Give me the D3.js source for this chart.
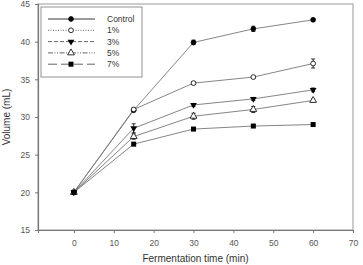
<!DOCTYPE html>
<html>
<head>
<meta charset="utf-8">
<script src="https://cdn.jsdelivr.net/npm/d3@7"></script>
<style>
  body { margin: 0; background: #fff; }
  svg { display: block; font-family: "Liberation Sans", Arial, sans-serif; }
</style>
</head>
<body>
<svg id="chart" width="363" height="265"></svg>
<script>
// ======================================================================
// DATA
// ======================================================================
var times = [0, 15, 30, 45, 60];
var seriesNames = ["Control", "1%", "3%", "5%", "7%"];
var controlValues = [20, 30.9, 39.9, 41.7, 42.9];
var pct1Values = [20, 31.0, 34.5, 35.3, 37.1];
var pct3Values = [20, 28.5, 31.6, 32.4, 33.6];
var pct5Values = [20, 27.4, 30.1, 31.0, 32.2];
var pct7Values = [20, 26.4, 28.4, 28.8, 29.0];
var controlErr = [0, 0.2, 0.3, 0.35, 0.2];
var pct1Err = [0, 0.2, 0.2, 0.15, 0.6];
var pct3Err = [0, 0.6, 0.2, 0.2, 0.25];
var pct5Err = [0, 0.35, 0.4, 0.4, 0.2];
var pct7Err = [0, 0.2, 0.2, 0.15, 0.2];
var xTicks = [0, 10, 20, 30, 40, 50, 60, 70];
var yTicks = [15, 20, 25, 30, 35, 40, 45];

var allValues = [controlValues, pct1Values, pct3Values, pct5Values, pct7Values];
var allErrs = [controlErr, pct1Err, pct3Err, pct5Err, pct7Err];
var symbols = ["circleFill", "circleOpen", "triDown", "triUp", "square"];
var dashes = [null, "1,1.5", "4,2", "5,1.5,1,1.5,1,1.5", "9,4"];

// ======================================================================
// SCALES
// ======================================================================
var svg = d3.select("#chart");
var plotLeft = 38, plotRight = 353, plotTop = 4, plotBottom = 230;

var x = d3.scaleLinear().domain([-9, 70]).range([plotLeft, plotRight]);
var y = d3.scaleLinear().domain([15, 45]).range([plotBottom, plotTop]);

// frame
svg.append("rect")
    .attr("x", plotLeft).attr("y", plotTop)
    .attr("width", plotRight - plotLeft).attr("height", plotBottom - plotTop)
    .attr("fill", "none").attr("stroke", "#999").attr("stroke-width", 1);

// axes
var xAxis = svg.append("g")
    .attr("transform", "translate(0," + plotBottom + ")")
    .call(d3.axisBottom(x).tickValues(xTicks).tickSize(3).tickPadding(7));
var yAxis = svg.append("g")
    .attr("transform", "translate(" + plotLeft + ",0)")
    .call(d3.axisLeft(y).tickValues(yTicks).tickSize(3).tickPadding(5));

[xAxis, yAxis].forEach(function(a) {
    a.select(".domain").attr("stroke", "#777").attr("stroke-width", 1.2);
    a.selectAll(".tick line").attr("stroke", "#777");
    a.selectAll(".tick text").attr("fill", "#555").style("font-size", "8.5px")
        .style("font-family", "'Liberation Sans', Arial, sans-serif");
});

// titles
svg.append("text")
    .attr("x", (plotLeft + plotRight) / 2).attr("y", 262)
    .attr("text-anchor", "middle").attr("fill", "#333")
    .style("font-size", "10px")
    .text("Fermentation time (min)");
svg.append("text")
    .attr("transform", "translate(10," + ((plotTop + plotBottom) / 2) + ") rotate(-90)")
    .attr("text-anchor", "middle").attr("fill", "#333")
    .style("font-size", "10px")
    .text("Volume (mL)");

// ======================================================================
// MARKERS
// ======================================================================
function drawMarker(g, kind, cx, cy) {
    if (kind === "circleFill" || kind === "circleOpen") {
        g.append("circle").attr("cx", cx).attr("cy", cy).attr("r", 2.4)
            .attr("fill", kind === "circleFill" ? "#000" : "#fff")
            .attr("stroke", "#000").attr("stroke-width", 0.8);
    } else if (kind === "square") {
        g.append("rect").attr("x", cx - 2.5).attr("y", cy - 2.5)
            .attr("width", 5).attr("height", 5).attr("fill", "#000");
    } else if (kind === "triDown") {
        g.append("path")
            .attr("d", d3.symbol().type(d3.symbolTriangle).size(20)())
            .attr("transform", "translate(" + cx + "," + cy + ") rotate(180)")
            .attr("fill", "#000");
    } else {
        g.append("path")
            .attr("d", d3.symbol().type(d3.symbolTriangle).size(20)())
            .attr("transform", "translate(" + cx + "," + cy + ")")
            .attr("fill", "#fff").attr("stroke", "#000").attr("stroke-width", 0.8);
    }
}

// ======================================================================
// SERIES
// ======================================================================
var line = d3.line()
    .x(function(d) { return x(d[0]); })
    .y(function(d) { return y(d[1]); });

var plot = svg.append("g");
allValues.forEach(function(vals) {
    plot.append("path")
        .datum(times.map(function(t, i) { return [t, vals[i]]; }))
        .attr("d", line)
        .attr("fill", "none").attr("stroke", "#777").attr("stroke-width", 0.9);
});

allValues.forEach(function(vals, s) {
    var g = plot.append("g");
    times.forEach(function(t, i) {
        var e = allErrs[s][i];
        if (e > 0) {
            var cx = x(t);
            g.append("line").attr("x1", cx).attr("x2", cx)
                .attr("y1", y(vals[i] - e)).attr("y2", y(vals[i] + e))
                .attr("stroke", "#000").attr("stroke-width", 0.8);
            [vals[i] - e, vals[i] + e].forEach(function(v) {
                g.append("line").attr("x1", cx - 2).attr("x2", cx + 2)
                    .attr("y1", y(v)).attr("y2", y(v))
                    .attr("stroke", "#000").attr("stroke-width", 0.8);
            });
        }
        drawMarker(g, symbols[s], x(t), y(vals[i]));
    });
});

// ======================================================================
// LEGEND
// ======================================================================
var legend = svg.append("g");
legend.append("rect")
    .attr("x", 41).attr("y", 7).attr("width", 101).attr("height", 70)
    .attr("fill", "#fff").attr("stroke", "#777").attr("stroke-width", 0.8);

seriesNames.forEach(function(name, s) {
    var ly = 19 + s * 11.3;
    legend.append("line")
        .attr("x1", 48).attr("x2", 95).attr("y1", ly).attr("y2", ly)
        .attr("stroke", s === 0 ? "#222" : "#555").attr("stroke-width", 0.9)
        .attr("stroke-dasharray", dashes[s]);
    drawMarker(legend, symbols[s], 71, ly);
    legend.append("text")
        .attr("x", 107).attr("y", ly + 3)
        .attr("fill", "#333").style("font-size", "8.5px")
        .text(name);
});
</script>
</body>
</html>
